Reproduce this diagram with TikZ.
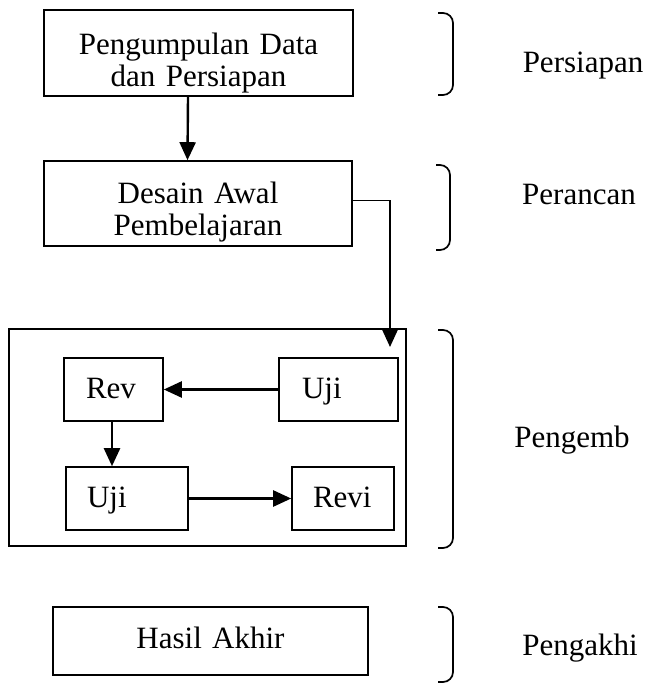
\documentclass[tikz,border=0pt]{standalone}
\usepackage{fontspec}
\setmainfont{Liberation Serif}
\usetikzlibrary{arrows.meta}

\tikzset{
  every node/.style={font=\fontsize{31}{32}\selectfont},
  box/.style={draw, line width=1.6pt, inner sep=0pt, align=center},
  lbox/.style={draw, line width=1.6pt, inner ysep=0pt, align=left,
    text height=40pt, text depth=23pt},
  arr/.style={-{Triangle[width=16pt,length=18pt]}, line width=2.4pt},
  brak/.style={line width=1.7pt, rounded corners=10pt},
}

\begin{document}
\begin{tikzpicture}[x=1pt,y=-1pt]
			%%%%% START %%%%%
			\useasboundingbox (0,0) rectangle (646,684);
			
			\node[box, text width=309pt, minimum height=86pt, text height=45pt, text depth=41pt] (data) at (198.5, 53) {Pengumpulan Data\\dan Persiapan};
			\node[box, text width=308pt, minimum height=85pt, text height=43pt, text depth=42pt] (design) at (198, 203.5) {Desain Awal\\Pembelajaran};
			
			\node[draw, line width=1.6pt, minimum width=397pt, minimum height=217pt] (dev) at (207.5, 437.5) {};
			\node[lbox, inner xsep=23pt, text width=73pt] (uji1) at (338.5, 389.5) {Uji};
			\node[lbox, inner xsep=22pt, text width=55pt] (rev) at (113.5, 389.5) {Rev};
			\node[lbox, inner xsep=21pt, text width=80pt] (uji2) at (127, 498.5) {Uji};
			\node[lbox, inner xsep=21pt, text width=60pt] (revi) at (343, 498.5) {Revi};
			
			\node[box, text width=315pt, minimum height=68pt, text height=41pt, text depth=27pt] (hasil) at (210.5, 641) {Hasil Akhir};
			
			\coordinate (entry) at (390, 347);
			
			\draw[arr] ([xshift=-10.5pt]data.south) -- ([xshift=-10.5pt]design.north);
			\draw[arr, line width=1.8pt] ([yshift=3pt]design.east) -| (entry);
			\draw[arr] (uji1.west) -- (rev.east);
			\draw[arr] ([xshift=-1.5pt]rev.south) -- ([xshift=-1.5pt]rev.south |- uji2.north);
			\draw[arr] (uji2.east) -- (revi.west);
			
			% brackets at the right
			\draw[brak] (438, 13) -- (453, 13) -- (453, 95) -- (438, 95);
			\draw[brak] (436, 165) -- (450, 165) -- (450, 250) -- (436, 250);
			\draw[brak] (438, 330) -- (453, 330) -- (453, 548) -- (438, 548);
			\draw[brak] (438, 607) -- (453, 607) -- (453, 682) -- (438, 682);
			
			\node[anchor=base] (persiapan) at (583, 73) {Persiapan};
			\node[anchor=base] (perancan) at (579, 205) {Perancan};
			\node[anchor=base] (pengemb) at (572, 447) {Pengemb};
			\node[anchor=base] (pengakhi) at (580, 655) {Pengakhi};
			
			%%%%% END %%%%%
\end{tikzpicture}
\end{document}
